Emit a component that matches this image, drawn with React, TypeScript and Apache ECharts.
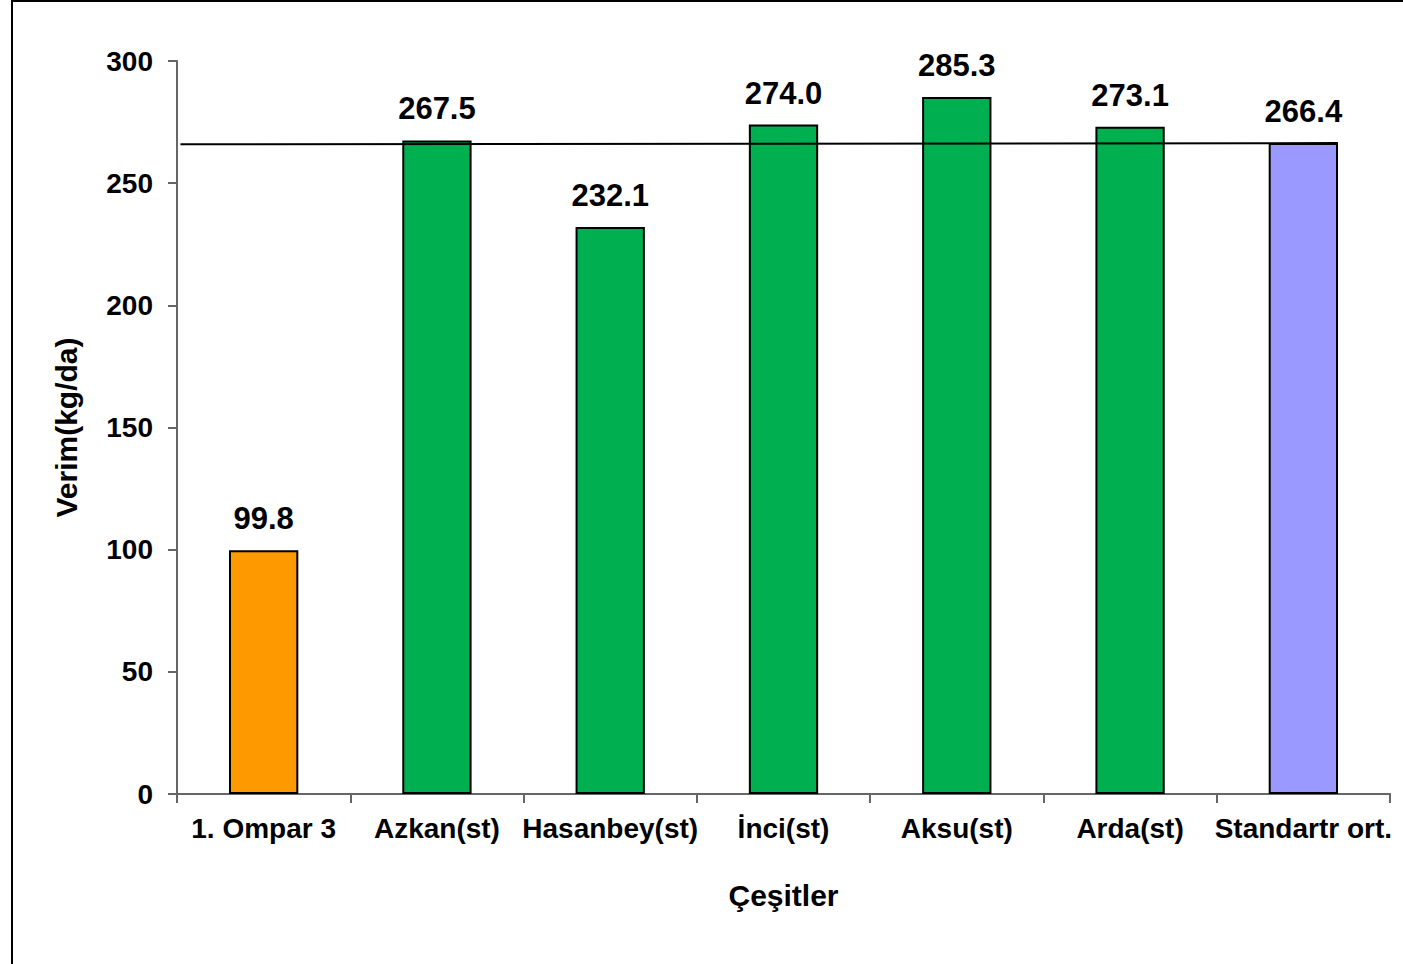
import React, { useEffect, useRef } from "react";
import * as echarts from "echarts";

const categories = ["1. Ompar 3", "Azkan(st)", "Hasanbey(st)", "İnci(st)", "Aksu(st)", "Arda(st)", "Standartr ort."];
const values = [99.8, 267.5, 232.1, 274.0, 285.3, 273.1, 266.4];
const barColors = ["#FF9900", "#00B050", "#00B050", "#00B050", "#00B050", "#00B050", "#9999FF"];
const refLine = [[-0.48, 265.9], [6.2, 266.4]];
const yTicks = { min: 0, max: 300, interval: 50 };

const FONT = "Liberation Sans, Arial, sans-serif";

export default function App() {
  const ref = useRef<HTMLDivElement>(null);
  useEffect(() => {
    document.body.style.margin = "0";
    const chart = echarts.init(ref.current!, null, { renderer: "svg" });
    chart.setOption({
      animation: false,
      backgroundColor: "#ffffff",
      textStyle: { fontFamily: FONT },
      grid: { left: 177, right: 13, top: 61, bottom: 170, containLabel: false },
      graphic: [
        {
          type: "rect",
          shape: { x: 12, y: 1, width: 1500, height: 1100 },
          style: { fill: "none", stroke: "#000", lineWidth: 2 },
          silent: true,
          z: -10,
        },
      ],
      xAxis: [
        {
          type: "category",
          data: categories,
          name: "Çeşitler",
          nameLocation: "middle",
          nameGap: 86,
          nameTextStyle: { fontFamily: FONT, fontSize: 30, fontWeight: "bold", color: "#000", verticalAlign: "top" },
          axisLine: { onZero: false, lineStyle: { color: "#666", width: 2 } },
          axisTick: { show: true, length: 9, alignWithLabel: false, lineStyle: { color: "#666", width: 2 } },
          axisLabel: { fontFamily: FONT, fontSize: 28, fontWeight: "bold", color: "#000", margin: 20, interval: 0 },
          splitLine: { show: false },
        },
        {
          type: "value",
          min: -0.5,
          max: 6.5,
          show: false,
        },
      ],
      yAxis: {
        type: "value",
        min: yTicks.min,
        max: yTicks.max,
        interval: yTicks.interval,
        name: "Verim(kg/da)",
        nameLocation: "middle",
        nameGap: 96,
        nameRotate: 90,
        nameTextStyle: { fontFamily: FONT, fontSize: 30, fontWeight: "bold", color: "#000" },
        axisLine: { show: true, onZero: false, lineStyle: { color: "#666", width: 2 } },
        axisTick: { show: true, length: 9, lineStyle: { color: "#666", width: 2 } },
        axisLabel: { fontFamily: FONT, fontSize: 28, fontWeight: "bold", color: "#000", margin: 24 },
        splitLine: { show: false },
      },
      series: [
        {
          type: "bar",
          xAxisIndex: 0,
          barWidth: "40%",
          data: values.map((v, i) => ({
            value: v,
            itemStyle: { color: barColors[i], borderColor: "#000", borderWidth: 2 },
          })),
          label: {
            show: true,
            position: "top",
            distance: 16,
            fontFamily: FONT,
            fontSize: 31,
            fontWeight: "bold",
            color: "#000",
            formatter: (p: any) => Number(p.value).toFixed(1),
          },
          z: 2,
        },
        {
          type: "line",
          xAxisIndex: 1,
          data: refLine,
          symbol: "none",
          lineStyle: { color: "#000", width: 2 },
          z: 5,
        },
      ],
    });
    return () => chart.dispose();
  }, []);
  return <div ref={ref} style={{ width: 1403, height: 964 }} />;
}
